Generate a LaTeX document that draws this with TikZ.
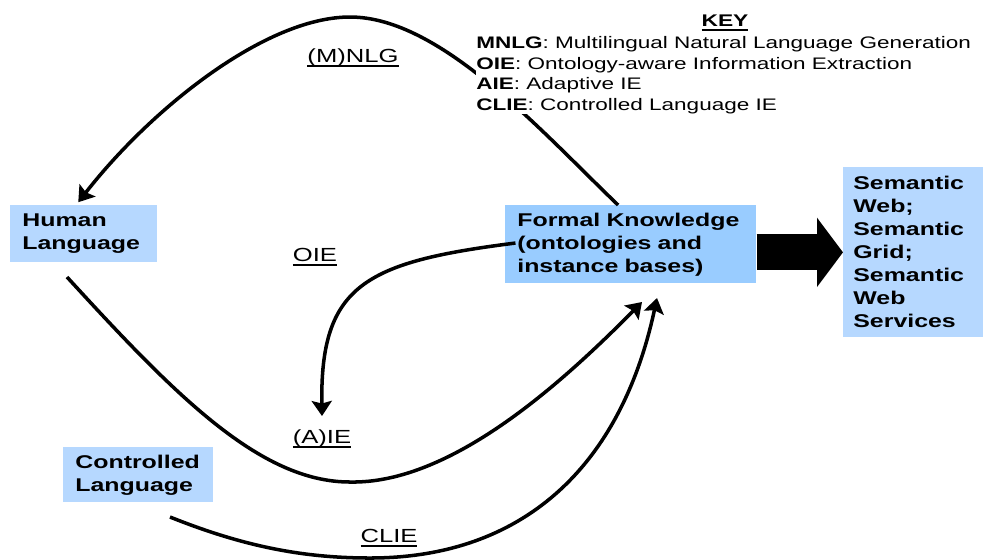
\documentclass[tikz,border=0pt]{standalone}
\usepackage{fontspec}
\setmainfont{Liberation Sans}[FakeStretch=1.35]
\usetikzlibrary{arrows.meta}
\definecolor{boxblue}{RGB}{182,216,255}
\definecolor{formalblue}{RGB}{153,204,255}
\newcommand{\ulbar}[1]{\vtop{\hbox{\raisebox{0pt}[\height][0pt]{#1}}\kern1.6pt\hrule height 1.1pt}}

\begin{document}
\begin{tikzpicture}[x=0.02cm,y=-0.02cm,
    flow/.style={draw=black,line width=2pt,-{Stealth[length=0.3cm,width=0.4cm,inset=0.05cm]}},
    box/.style={fill=boxblue,anchor=north west,align=left,inner xsep=0.24cm,inner ysep=0pt,font=\fontsize{10.5}{13.1}\selectfont\bfseries},
    lbl/.style={font=\fontsize{10.8}{13}\selectfont},
    keytext/.style={fill=white,anchor=north west,align=left,inner sep=0pt,font=\fontsize{9.5}{11.7}\selectfont},
]
    \useasboundingbox (0,0) rectangle (983,559);

    % boxes
    \node[box,minimum width=2.94cm,minimum height=1.14cm,text width=2.46cm] (human) at (10,205) {Human\\Language};
    \node[box,fill=formalblue,minimum width=5.02cm,minimum height=1.56cm,text width=4.54cm] (formal) at (505,205) {Formal Knowledge\\(ontologies and\\instance bases)};
    \node[box,inner xsep=0.2cm,minimum width=2.8cm,minimum height=3.4cm,text width=2.4cm] (semantic) at (843,167) {Semantic\\Web;\\Semantic\\Grid;\\Semantic\\Web\\Services};
    \node[box,minimum width=3.0cm,minimum height=1.1cm,text width=2.52cm] (controlled) at (63,447) {Controlled\\Language};

    % free ends
    \coordinate (hlfoot) at (67,277);
    \coordinate (cltail) at (170,517);
    \coordinate (aietip) at (322,416);
    \coordinate (fktipa) at (642,302);
    \coordinate (fktipb) at (657,298);

    % connectors
    \draw[flow,shorten >=2pt] (formal.108) .. controls (540,130) and (440,17) .. (350,17)
        .. controls (265,17) and (150,110) .. (human.105);
    \draw[flow,shorten <=-6pt] (formal.west) .. controls (365,262) and (320,285) .. (aietip);
    \draw[flow] (hlfoot) .. controls (175,395) and (260,482) .. (350,482)
        .. controls (450,484) and (560,385) .. (fktipa);
    \draw[flow] (cltail) .. controls (240,545) and (300,558) .. (370,558)
        .. controls (520,558) and (620,470) .. (fktipb);
    \draw[line width=0.72cm,-{Triangle[length=0.52cm,width=1.36cm]}] (formal.east |- semantic.west) -- (semantic.west);

    % labels
    \node[lbl] (mnlg) at (353,58) {\ulbar{(M)NLG}};
    \node[lbl] (oie) at (315,257) {\ulbar{OIE}};
    \node[lbl] (aie) at (322,439) {\ulbar{(A)IE}};
    \node[lbl] (clie) at (389,538) {\ulbar{CLIE}};

    % key
    \node[font=\fontsize{9.6}{11}\selectfont\bfseries] (key) at (725,23) {\ulbar{KEY}};
    \node[keytext] (keylist) at (476,36) {\textbf{MNLG}: Multilingual Natural Language Generation\\
        \textbf{OIE}: Ontology-aware Information Extraction\\
        \textbf{AIE}: Adaptive IE\\
        \textbf{CLIE}: Controlled Language IE};
\end{tikzpicture}
\end{document}
